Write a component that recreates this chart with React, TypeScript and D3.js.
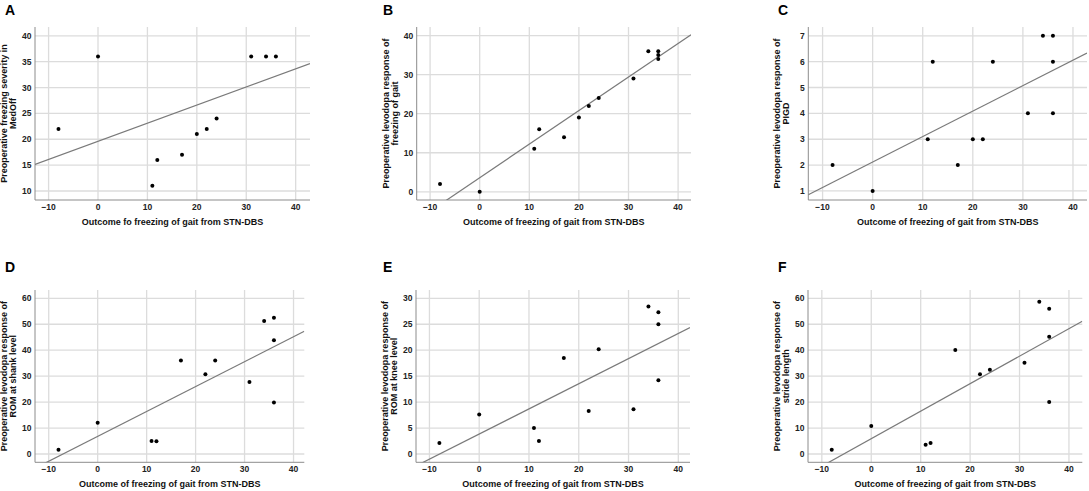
import React, { useRef, useEffect } from "react"
import * as d3 from "d3"

// x values (outcome of freezing of gait) per panel
const xA = [-8, 0, 11, 12, 17, 20, 22, 24, 31, 34, 36]
const yA = [22, 36, 11, 16, 17, 21, 22, 24, 36, 36, 36]

const xB = [-8, 0, 11, 12, 17, 20, 22, 24, 31, 34, 36, 36, 36]
const yB = [2, 0, 11, 16, 14, 19, 22, 24, 29, 36, 36, 35, 34]

const xC = [-8, 0, 11, 12, 17, 20, 22, 24, 31, 34, 36, 36, 36]
const yC = [2, 1, 3, 6, 2, 3, 3, 6, 4, 7, 7, 6, 4]

const xD = [-8, 0, 11, 12, 17, 22, 24, 31, 34, 36, 36, 36]
const yD = [1.6, 12, 5, 4.9, 36, 30.7, 36, 27.7, 51.3, 52.5, 43.8, 19.8]

const xE = [-8, 0, 11, 12, 17, 22, 24, 31, 34, 36, 36, 36]
const yE = [2.1, 7.6, 5, 2.5, 18.5, 8.3, 20.2, 8.6, 28.4, 27.3, 25, 14.2]

const xF = [-8, 0, 11, 12, 17, 22, 24, 31, 34, 36, 36, 36]
const yF = [1.6, 10.8, 3.6, 4.2, 40.1, 30.7, 32.5, 35.2, 58.7, 56, 45.2, 20]

// fit lines: [intercept, slope]
const fitA = [19.6, 0.35]
const fitB = [3.6, 0.86]
const fitC = [2.12, 0.0985]
const fitD = [6.8, 0.96]
const fitE = [3.85, 0.484]
const fitF = [5.9, 1.06]

const xTicks = [-10, 0, 10, 20, 30, 40]
const yTicksA = [10, 15, 20, 25, 30, 35, 40]
const yTicksB = [0, 10, 20, 30, 40]
const yTicksC = [1, 2, 3, 4, 5, 6, 7]
const yTicksD = [0, 10, 20, 30, 40, 50, 60]
const yTicksE = [0, 5, 10, 15, 20, 25, 30]
const yTicksF = [0, 10, 20, 30, 40, 50, 60]

const letters = ["A", "B", "C", "D", "E", "F"]
const xTitles = [
  "Outcome fo freezing of gait from STN-DBS",
  "Outcome of freezing of gait from STN-DBS",
  "Outcome of freezing of gait from STN-DBS",
  "Outcome of freezing of gait from STN-DBS",
  "Outcome of freezing of gait from STN-DBS",
  "Outcome of freezing of gait from STN-DBS",
]
const yTitles = [
  ["Preoperative freezing severity in", "MedOff"],
  ["Preoperative levodopa response of", "freezing of gait"],
  ["Preoperative levodopa response of", "PIGD"],
  ["Preoperative levodopa response of", "ROM at shank level"],
  ["Preoperative levodopa response of", "ROM at knee level"],
  ["Preoperative levodopa response of", "stride length"],
]

type Panel = {
  xs: number[]
  ys: number[]
  fit: number[]
  yTicks: number[]
  left: number
  right: number
  top: number
  bottom: number
  xDomain: [number, number]
  yDomain: [number, number]
  letterX: number
  letterY: number
}

const panels: Panel[] = [
  { xs: xA, ys: yA, fit: fitA, yTicks: yTicksA, left: 35, right: 310, top: 27, bottom: 200, xDomain: [-12.75, 42.9], yDomain: [8.26, 41.7], letterX: 5, letterY: 15 },
  { xs: xB, ys: yB, fit: fitB, yTicks: yTicksB, left: 416.7, right: 691, top: 27, bottom: 200, xDomain: [-12.7, 42.6], yDomain: [-2.1, 42.2], letterX: 383, letterY: 15 },
  { xs: xC, ys: yC, fit: fitC, yTicks: yTicksC, left: 808.3, right: 1087, top: 27, bottom: 200, xDomain: [-12.85, 42.8], yDomain: [0.65, 7.34], letterX: 778, letterY: 15 },
  { xs: xD, ys: yD, fit: fitD, yTicks: yTicksD, left: 35, right: 304.3, top: 290, bottom: 462.3, xDomain: [-12.8, 42.2], yDomain: [-3.2, 63.2], letterX: 5, letterY: 272 },
  { xs: xE, ys: yE, fit: fitE, yTicks: yTicksE, left: 416, right: 690, top: 290, bottom: 462.3, xDomain: [-12.7, 42.35], yDomain: [-1.6, 31.6], letterX: 383, letterY: 272 },
  { xs: xF, ys: yF, fit: fitF, yTicks: yTicksF, left: 808, right: 1082.3, top: 290, bottom: 462.3, xDomain: [-12.8, 42.7], yDomain: [-3.2, 63.2], letterX: 778, letterY: 272 },
]

const width = 1089
const height = 491
const font = "'Liberation Sans', Arial, sans-serif"

const App: React.FC = () => {
  const svgRef = useRef<SVGSVGElement | null>(null)

  useEffect(() => {
    if (!svgRef.current) return
    const svg = d3.select(svgRef.current)
    svg.selectAll("*").remove()

    panels.forEach((p, i) => {
      const x = d3.scaleLinear().domain(p.xDomain).range([p.left, p.right])
      const y = d3.scaleLinear().domain(p.yDomain).range([p.bottom, p.top])
      const g = svg.append("g")

      const clipId = `clip-${i}`
      g.append("clipPath")
        .attr("id", clipId)
        .append("rect")
        .attr("x", p.left)
        .attr("y", p.top)
        .attr("width", p.right - p.left)
        .attr("height", p.bottom - p.top)

      // gridlines
      g.selectAll(".vgrid")
        .data(xTicks)
        .enter()
        .append("line")
        .attr("x1", (d) => x(d))
        .attr("x2", (d) => x(d))
        .attr("y1", p.top)
        .attr("y2", p.bottom)
        .attr("stroke", "#dcdcdc")
        .attr("stroke-width", 1.3)

      g.selectAll(".hgrid")
        .data(p.yTicks)
        .enter()
        .append("line")
        .attr("x1", p.left)
        .attr("x2", p.right)
        .attr("y1", (d) => y(d))
        .attr("y2", (d) => y(d))
        .attr("stroke", "#dcdcdc")
        .attr("stroke-width", 1.3)

      // axis lines
      g.append("line")
        .attr("x1", p.left)
        .attr("x2", p.left)
        .attr("y1", p.top)
        .attr("y2", p.bottom)
        .attr("stroke", "#8c8c8c")
        .attr("stroke-width", 1)
      g.append("line")
        .attr("x1", p.left)
        .attr("x2", p.right)
        .attr("y1", p.bottom)
        .attr("y2", p.bottom)
        .attr("stroke", "#8c8c8c")
        .attr("stroke-width", 1)

      // tick labels
      g.selectAll(".xt")
        .data(xTicks)
        .enter()
        .append("text")
        .attr("x", (d) => x(d))
        .attr("y", p.bottom + 10)
        .attr("text-anchor", "middle")
        .attr("font-family", font)
        .attr("font-size", 8.5)
        .attr("font-weight", "bold")
        .attr("fill", "#222")
        .text((d) => d3.format("d")(d))

      g.selectAll(".yt")
        .data(p.yTicks)
        .enter()
        .append("text")
        .attr("x", p.left - 3.5)
        .attr("y", (d) => y(d) + 3)
        .attr("text-anchor", "end")
        .attr("font-family", font)
        .attr("font-size", 8.5)
        .attr("font-weight", "bold")
        .attr("fill", "#222")
        .text((d) => d3.format("d")(d))

      // fit line
      const line = d3
        .line<number>()
        .x((d) => x(d))
        .y((d) => y(p.fit[0] + p.fit[1] * d))
      g.append("path")
        .datum(p.xDomain)
        .attr("d", line)
        .attr("clip-path", `url(#${clipId})`)
        .attr("fill", "none")
        .attr("stroke", "#7a7a7a")
        .attr("stroke-width", 1.2)

      // points
      g.selectAll(".dot")
        .data(p.xs.map((v, k) => [v, p.ys[k]]))
        .enter()
        .append("circle")
        .attr("cx", (d) => x(d[0]))
        .attr("cy", (d) => y(d[1]))
        .attr("r", 2)
        .attr("fill", "#000")

      // axis titles
      g.append("text")
        .attr("x", (p.left + p.right) / 2)
        .attr("y", p.bottom + 25)
        .attr("text-anchor", "middle")
        .attr("font-family", font)
        .attr("font-size", 9)
        .attr("font-weight", "bold")
        .attr("fill", "#111")
        .text(xTitles[i])

      const cy = (p.top + p.bottom) / 2
      yTitles[i].forEach((t, k) => {
        const bx = p.left - 28 + k * 9
        g.append("text")
          .attr("transform", `translate(${bx},${cy}) rotate(-90)`)
          .attr("text-anchor", "middle")
          .attr("font-family", font)
          .attr("font-size", 9)
          .attr("font-weight", "bold")
          .attr("fill", "#111")
          .text(t)
      })

      // panel letter
      g.append("text")
        .attr("x", p.letterX)
        .attr("y", p.letterY)
        .attr("font-family", font)
        .attr("font-size", 14)
        .attr("font-weight", "bold")
        .attr("fill", "#000")
        .text(letters[i])
    })
  }, [])

  return (
    <svg
      ref={svgRef}
      width={width}
      height={height}
      style={{ position: "absolute", left: 0, top: 0, background: "#fff" }}
    ></svg>
  )
}

export default App
